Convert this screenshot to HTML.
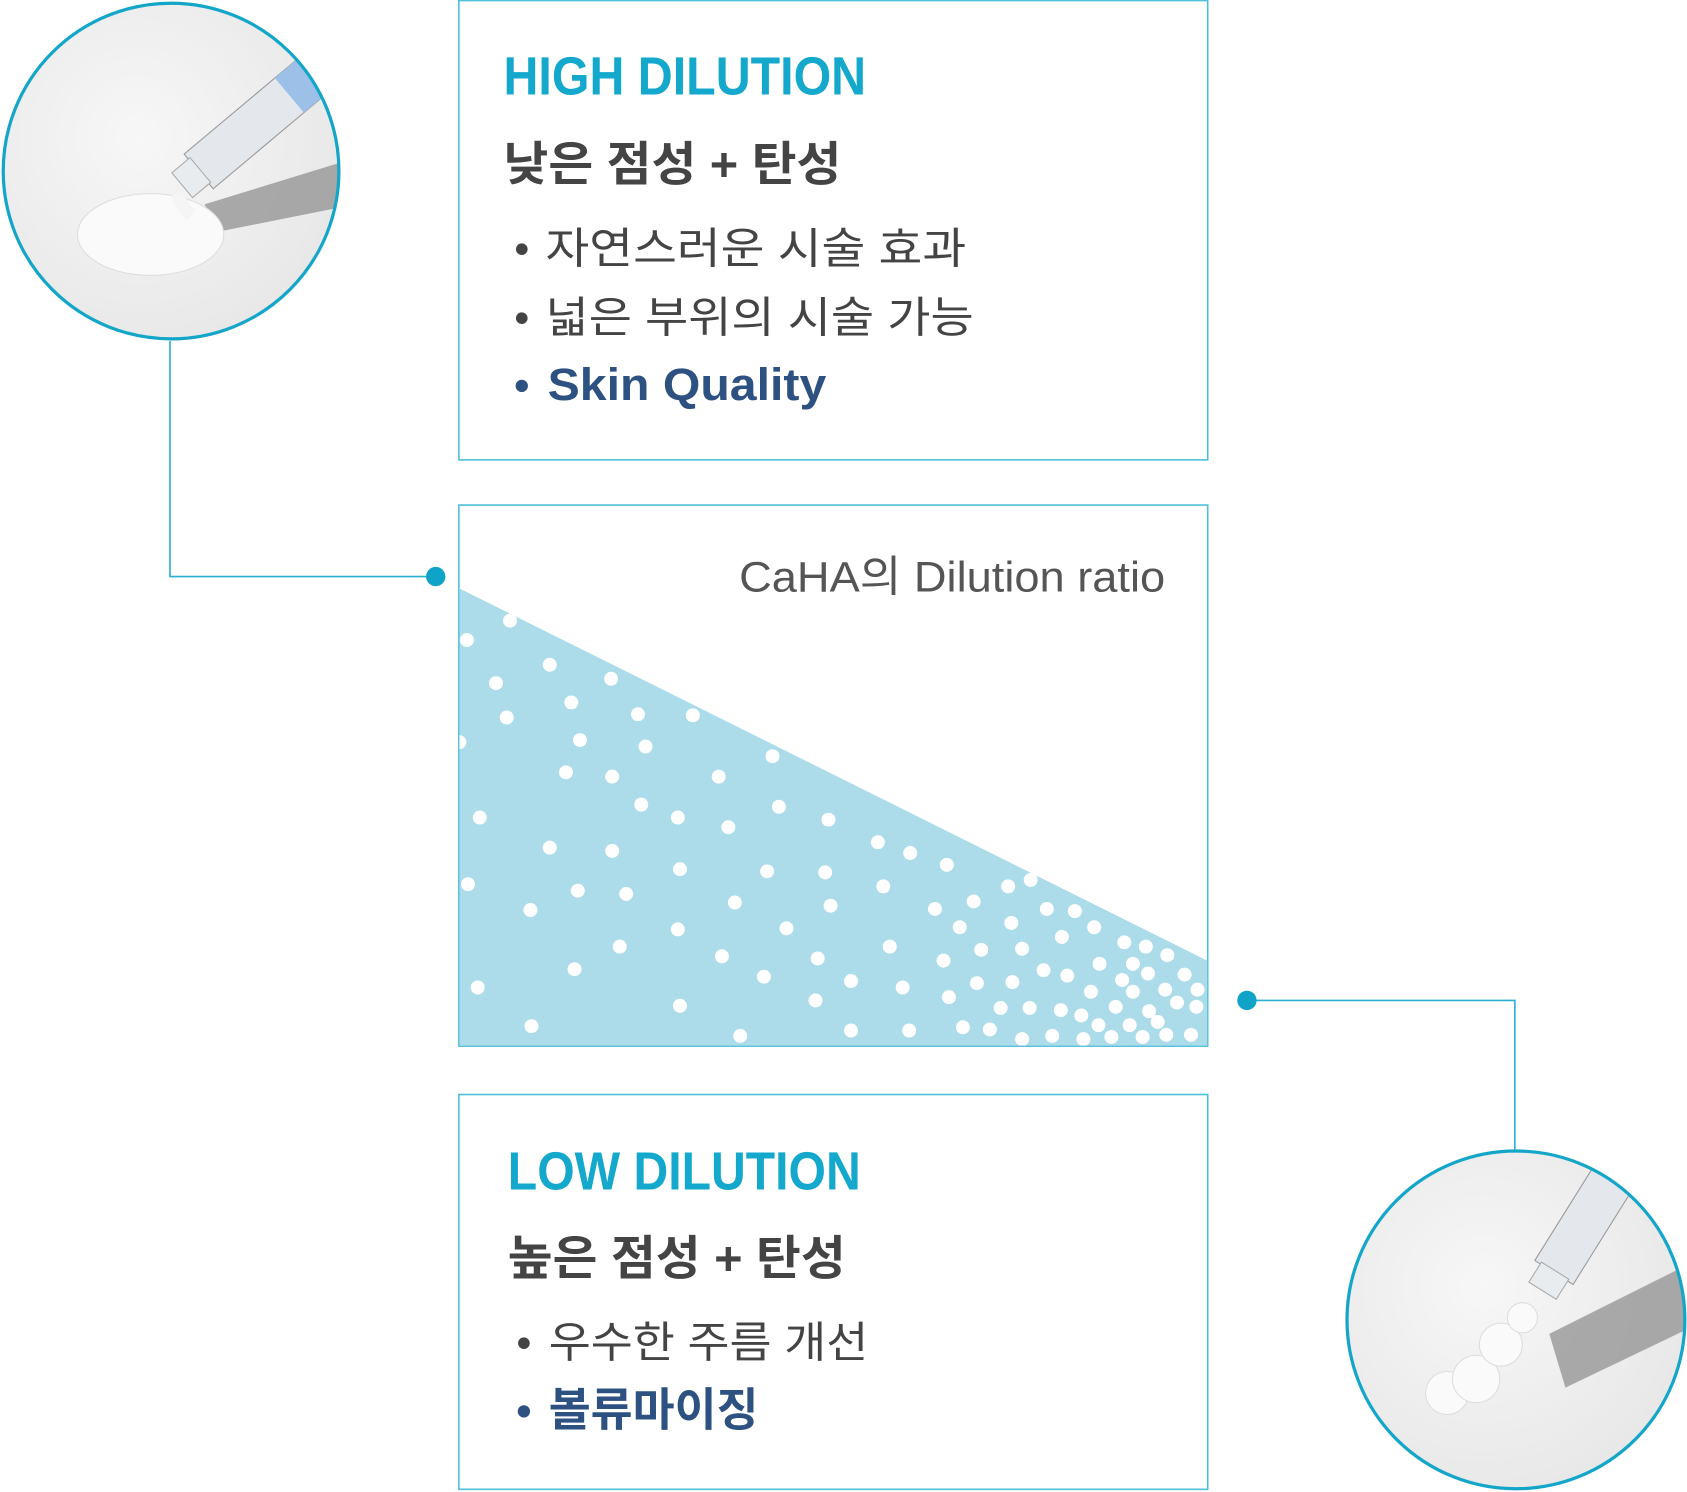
<!DOCTYPE html>
<html><head><meta charset="utf-8"><style>
html,body{margin:0;padding:0;background:#fff;}
svg{display:block}
text{font-family:"Liberation Sans","Noto Sans CJK KR",sans-serif;}
</style></head><body>
<svg width="1687" height="1492" viewBox="0 0 1568 1387" preserveAspectRatio="none" xmlns="http://www.w3.org/2000/svg">
<defs>
<clipPath id="tri"><polygon points="427,547 1122,893 1122,972 427,972"/></clipPath>
<clipPath id="c1"><circle cx="159" cy="159" r="156"/></clipPath>
<clipPath id="c2"><circle cx="1409" cy="1227" r="157"/></clipPath>
<radialGradient id="bg" cx="0.4" cy="0.4" r="0.7"><stop offset="0" stop-color="#f7f7f7"/><stop offset="1" stop-color="#e6e6e6"/></radialGradient>
</defs>
<polyline points="158,317 158,536 405,536" fill="none" stroke="#27b0cf" stroke-width="1.5"/>
<circle cx="405" cy="536" r="9" fill="#0fa3c7"/>
<polyline points="1159,930 1408,930 1408,1070" fill="none" stroke="#27b0cf" stroke-width="1.5"/>
<circle cx="1159" cy="930" r="9" fill="#0fa3c7"/>
<g clip-path="url(#c1)">
<rect x="0" y="0" width="320" height="320" fill="url(#bg)"/>
<polygon points="190,190 320,150 330,190 205,215" fill="#8a8a8a" opacity="0.7"/>
<ellipse cx="140" cy="218" rx="68" ry="38" fill="#fafafa" stroke="#ddd"/>
<path d="M165,180 Q170,195 178,200" stroke="#f5f5f5" stroke-width="12" fill="none"/>
<g transform="rotate(-40 230 120)"><rect x="170" y="100" width="160" height="42" fill="#e4e8ec" stroke="#999" stroke-width="1"/><rect x="280" y="100" width="30" height="42" fill="#9cc0e8"/><rect x="150" y="106" width="22" height="30" fill="#e9ecef" stroke="#aaa"/></g>
</g>
<circle cx="159" cy="159" r="156" fill="none" stroke="#14a6c8" stroke-width="3"/>
<g clip-path="url(#c2)">
<rect x="1250" y="1068" width="320" height="320" fill="url(#bg)"/>
<polygon points="1440,1240 1580,1170 1580,1230 1455,1290" fill="#8a8a8a" opacity="0.7"/>
<circle cx="1345" cy="1295" r="20" fill="#fafafa" stroke="#ddd"/>
<circle cx="1372" cy="1282" r="22" fill="#fafafa" stroke="#ddd"/>
<circle cx="1395" cy="1250" r="20" fill="#fafafa" stroke="#ddd"/>
<circle cx="1415" cy="1225" r="14" fill="#fafafa" stroke="#ddd"/>
<g transform="rotate(-58 1470 1140)"><rect x="1420" y="1120" width="160" height="42" fill="#e4e8ec" stroke="#999"/><rect x="1400" y="1126" width="22" height="30" fill="#e9ecef" stroke="#aaa"/></g>
</g>
<circle cx="1409" cy="1227" r="157" fill="none" stroke="#14a6c8" stroke-width="3"/>
<rect x="426.5" y="0.5" width="696" height="427" fill="none" stroke="#4fc0da" stroke-width="1.5"/>
<rect x="426.5" y="469.5" width="696" height="503" fill="none" stroke="#4fc0da" stroke-width="1.5"/>
<rect x="426.5" y="1017.5" width="696" height="367" fill="none" stroke="#4fc0da" stroke-width="1.5"/>
<polygon points="427,547 1122,893 1122,972 427,972" fill="#acdbe9"/>
<g clip-path="url(#tri)" fill="#fff">
<circle cx="474" cy="577" r="6.5"/><circle cx="434" cy="595" r="6.5"/><circle cx="511" cy="618" r="6.5"/><circle cx="568" cy="631" r="6.5"/><circle cx="461" cy="635" r="6.5"/><circle cx="531" cy="653" r="6.5"/><circle cx="593" cy="664" r="6.5"/><circle cx="644" cy="665" r="6.5"/><circle cx="471" cy="667" r="6.5"/><circle cx="539" cy="688" r="6.5"/><circle cx="600" cy="694" r="6.5"/><circle cx="718" cy="703" r="6.5"/><circle cx="526" cy="718" r="6.5"/><circle cx="569" cy="722" r="6.5"/><circle cx="668" cy="722" r="6.5"/><circle cx="596" cy="748" r="6.5"/><circle cx="724" cy="750" r="6.5"/><circle cx="446" cy="760" r="6.5"/><circle cx="630" cy="760" r="6.5"/><circle cx="770" cy="762" r="6.5"/><circle cx="677" cy="769" r="6.5"/><circle cx="816" cy="783" r="6.5"/><circle cx="511" cy="788" r="6.5"/><circle cx="569" cy="791" r="6.5"/><circle cx="846" cy="793" r="6.5"/><circle cx="880" cy="804" r="6.5"/><circle cx="632" cy="808" r="6.5"/><circle cx="713" cy="810" r="6.5"/><circle cx="767" cy="811" r="6.5"/><circle cx="958" cy="818" r="6.5"/><circle cx="937" cy="824" r="6.5"/><circle cx="435" cy="822" r="6.5"/><circle cx="537" cy="828" r="6.5"/><circle cx="582" cy="831" r="6.5"/><circle cx="821" cy="824" r="6.5"/><circle cx="683" cy="839" r="6.5"/><circle cx="772" cy="842" r="6.5"/><circle cx="905" cy="838" r="6.5"/><circle cx="973" cy="845" r="6.5"/><circle cx="869" cy="845" r="6.5"/><circle cx="999" cy="847" r="6.5"/><circle cx="493" cy="846" r="6.5"/><circle cx="940" cy="858" r="6.5"/><circle cx="892" cy="862" r="6.5"/><circle cx="1017" cy="862" r="6.5"/><circle cx="630" cy="864" r="6.5"/><circle cx="731" cy="863" r="6.5"/><circle cx="987" cy="871" r="6.5"/><circle cx="1045" cy="876" r="6.5"/><circle cx="576" cy="880" r="6.5"/><circle cx="827" cy="880" r="6.5"/><circle cx="912" cy="883" r="6.5"/><circle cx="950" cy="882" r="6.5"/><circle cx="1065" cy="880" r="6.5"/><circle cx="671" cy="889" r="6.5"/><circle cx="760" cy="891" r="6.5"/><circle cx="877" cy="893" r="6.5"/><circle cx="1085" cy="888" r="6.5"/><circle cx="1022" cy="896" r="6.5"/><circle cx="970" cy="902" r="6.5"/><circle cx="534" cy="901" r="6.5"/><circle cx="1053" cy="896" r="6.5"/><circle cx="992" cy="907" r="6.5"/><circle cx="1101" cy="906" r="6.5"/><circle cx="1067" cy="905" r="6.5"/><circle cx="710" cy="908" r="6.5"/><circle cx="791" cy="912" r="6.5"/><circle cx="1043" cy="911" r="6.5"/><circle cx="908" cy="914" r="6.5"/><circle cx="941" cy="913" r="6.5"/><circle cx="444" cy="918" r="6.5"/><circle cx="839" cy="918" r="6.5"/><circle cx="1083" cy="920" r="6.5"/><circle cx="1014" cy="922" r="6.5"/><circle cx="1113" cy="920" r="6.5"/><circle cx="882" cy="927" r="6.5"/><circle cx="1053" cy="922" r="6.5"/><circle cx="758" cy="930" r="6.5"/><circle cx="1094" cy="932" r="6.5"/><circle cx="632" cy="935" r="6.5"/><circle cx="930" cy="937" r="6.5"/><circle cx="957" cy="937" r="6.5"/><circle cx="986" cy="939" r="6.5"/><circle cx="1037" cy="936" r="6.5"/><circle cx="1068" cy="940" r="6.5"/><circle cx="1112" cy="936" r="6.5"/><circle cx="1005" cy="944" r="6.5"/><circle cx="1076" cy="950" r="6.5"/><circle cx="494" cy="954" r="6.5"/><circle cx="1050" cy="953" r="6.5"/><circle cx="1021" cy="953" r="6.5"/><circle cx="920" cy="957" r="6.5"/><circle cx="895" cy="955" r="6.5"/><circle cx="845" cy="958" r="6.5"/><circle cx="791" cy="958" r="6.5"/><circle cx="688" cy="963" r="6.5"/><circle cx="1107" cy="962" r="6.5"/><circle cx="1084" cy="962" r="6.5"/><circle cx="978" cy="963" r="6.5"/><circle cx="1033" cy="964" r="6.5"/><circle cx="1062" cy="964" r="6.5"/><circle cx="950" cy="966" r="6.5"/><circle cx="1007" cy="966" r="6.5"/><circle cx="427" cy="690" r="6.5"/>
</g>
<text x="1083" y="550" text-anchor="end" font-size="40" fill="#555" textLength="396" lengthAdjust="spacingAndGlyphs">CaHA의 Dilution ratio</text>
<text x="468" y="88" font-size="50" font-weight="bold" fill="#13a8cc" textLength="337" lengthAdjust="spacingAndGlyphs">HIGH DILUTION</text>
<text x="468" y="168" font-size="44" font-weight="bold" fill="#444" textLength="314" lengthAdjust="spacingAndGlyphs">낮은 점성 + 탄성</text>
<text x="478" y="245" font-size="40" fill="#444">•</text>
<text x="507" y="245" font-size="40" fill="#444" textLength="391" lengthAdjust="spacingAndGlyphs">자연스러운 시술 효과</text>
<text x="478" y="309" font-size="40" fill="#444">•</text>
<text x="507" y="309" font-size="40" fill="#444" textLength="398" lengthAdjust="spacingAndGlyphs">넓은 부위의 시술 가능</text>
<text x="478" y="372" font-size="40" font-weight="bold" fill="#2d5282">•</text>
<text x="509" y="372" font-size="42" font-weight="bold" fill="#2d5282" textLength="259" lengthAdjust="spacingAndGlyphs">Skin Quality</text>
<text x="472" y="1106" font-size="50" font-weight="bold" fill="#13a8cc" textLength="328" lengthAdjust="spacingAndGlyphs">LOW DILUTION</text>
<text x="472" y="1185" font-size="44" font-weight="bold" fill="#444" textLength="314" lengthAdjust="spacingAndGlyphs">높은 점성 + 탄성</text>
<text x="480" y="1262" font-size="40" fill="#444">•</text>
<text x="510" y="1262" font-size="40" fill="#444" textLength="297" lengthAdjust="spacingAndGlyphs">우수한 주름 개선</text>
<text x="480" y="1325" font-size="40" font-weight="bold" fill="#2d5282">•</text>
<text x="510" y="1325" font-size="42" font-weight="bold" fill="#2d5282" textLength="195" lengthAdjust="spacingAndGlyphs">볼류마이징</text>
</svg>
</body></html>
